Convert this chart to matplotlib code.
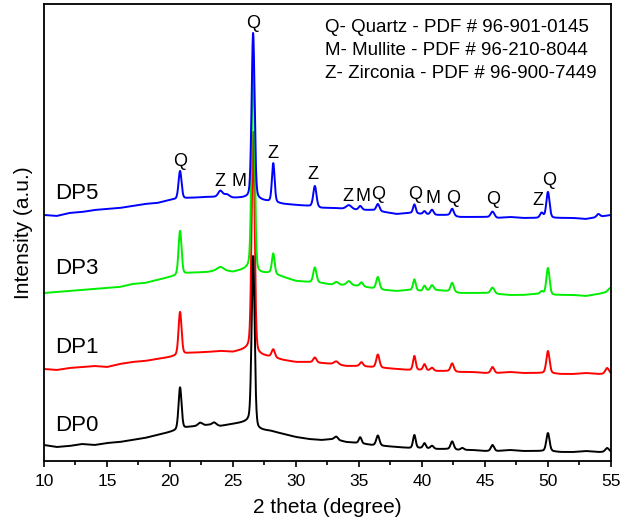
import numpy as np
import matplotlib
matplotlib.use("Agg")
import matplotlib.pyplot as plt
from matplotlib.ticker import MultipleLocator

plt.rcParams["font.family"] = ["Liberation Sans", "DejaVu Sans"]

# --- background points (2theta, intensity) ---
bg_x = [10, 11, 12, 13, 14, 15, 16, 17, 18, 19, 20, 21.5, 23, 24, 25, 26.2, 27, 28, 29, 30, 31, 32, 33, 34, 35,
        36, 37, 38, 39, 40, 41, 42, 43, 44, 45, 46, 47, 48, 49, 50, 51, 52, 53, 54, 55]
dp0_bg = [16, 14, 15, 17, 16, 18, 19, 21, 23, 26, 29, 34, 36, 35, 37, 39, 31, 30, 27, 24, 22, 21, 22, 19, 18,
          16, 15, 14, 13, 13, 12, 12, 11, 11, 10, 10, 11, 10, 10, 10, 9, 9, 10, 9, 9]
dp1_bg = [92, 91, 93, 94, 95, 94, 97, 99, 100, 102, 104, 108, 109, 110, 109, 112, 106, 104, 101, 99, 99, 98, 97, 95, 95,
          94, 93, 92, 91, 91, 90, 90, 89, 89, 88, 88, 89, 88, 88, 88, 87, 87, 88, 87, 87]
dp3_bg = [168, 169, 170, 171, 172, 173, 174, 177, 178, 181, 184, 188, 189, 191, 189, 192, 187, 188, 184, 180, 179, 178, 176, 176, 175,
          173, 171, 170, 171, 170, 171, 170, 168, 168, 168, 167, 166, 166, 167, 166, 166, 166, 165, 167, 170]
dp5_bg = [246, 245, 248, 249, 251, 252, 253, 255, 257, 258, 261, 263, 264, 264, 263, 263, 261, 259, 257, 256, 255, 253, 253, 252, 251,
          251, 249, 247, 248, 247, 246, 246, 244, 244, 244, 243, 244, 243, 243, 243, 243, 243, 242, 244, 246]

# --- peaks: position, height above background, fwhm ---
dp0_pos = [20.8, 22.4, 23.5, 26.6, 33.2, 35.1, 36.5, 39.4, 40.2, 40.8, 42.4, 43.2, 45.6, 50.0, 54.7]
dp0_hgt = [42, 3, 3, 170, 3, 6, 10, 13, 5, 3, 8, 2, 6, 18, 4]
dp0_fw = [0.28, 0.4, 0.4, 0.28, 0.3, 0.25, 0.3, 0.25, 0.25, 0.3, 0.3, 0.3, 0.3, 0.3, 0.35]

dp1_pos = [20.8, 26.6, 28.2, 31.5, 33.2, 35.2, 36.5, 39.4, 40.2, 40.8, 42.4, 45.6, 50.0, 54.7]
dp1_hgt = [43, 220, 8, 5, 3, 4, 13, 14, 6, 3, 8, 6, 22, 6]
dp1_fw = [0.28, 0.28, 0.3, 0.3, 0.4, 0.3, 0.3, 0.25, 0.25, 0.3, 0.3, 0.3, 0.3, 0.35]

dp3_pos = [20.8, 24.0, 26.6, 28.2, 31.5, 33.2, 34.2, 35.2, 36.5, 39.4, 40.2, 40.8, 42.4, 45.6, 49.5, 50.0, 54.9]
dp3_hgt = [44, 3, 218, 20, 15, 3, 4, 4, 12, 11, 5, 5, 9, 6, 3, 27, 3]
dp3_fw = [0.28, 0.6, 0.28, 0.25, 0.3, 0.4, 0.4, 0.3, 0.3, 0.25, 0.25, 0.3, 0.3, 0.35, 0.3, 0.3, 0.3]

dp5_pos = [20.8, 24.0, 24.5, 26.6, 28.2, 31.5, 34.2, 35.1, 36.5, 39.4, 40.2, 40.8, 42.4, 45.6, 49.5, 50.0, 54.0]
dp5_hgt = [28, 6, 3, 166, 39, 21, 4, 4, 7, 9, 3, 5, 7, 6, 5, 26, 3]
dp5_fw = [0.28, 0.4, 0.5, 0.28, 0.25, 0.3, 0.5, 0.3, 0.3, 0.25, 0.25, 0.3, 0.3, 0.35, 0.3, 0.3, 0.3]

# --- phase labels ---
lab_txt = ["Q", "Z", "M", "Q", "Z", "Z", "Z", "M", "Q", "Q", "M", "Q", "Q", "Z", "Q"]
lab_x = [20.79, 23.97, 25.48, 26.59, 28.17, 31.35, 34.13, 35.32, 36.51, 39.44, 40.87, 42.46, 45.63, 49.2, 50.08]
lab_y = [299, 279, 279, 437, 307, 286, 264, 264, 266, 266, 262, 262, 261, 260, 280]

samples = ["DP1", "DP3", "DP0", "DP5"]
sample_y = {"DP0": 36, "DP1": 114, "DP3": 193, "DP5": 267}
colors = {"DP0": "black", "DP1": "#ff0000", "DP3": "#00ee00", "DP5": "#0000ff"}


def pattern(bg, pos, hgt, fw, x):
    y = np.interp(x, bg_x, bg)
    for p, h, w in zip(pos, hgt, fw):
        s = w / 2.3548
        g = np.exp(-0.5 * ((x - p) / s) ** 2)
        l = 1 / (1 + ((x - p) / (w / 2)) ** 2)
        y = y + h * (0.75 * g + 0.25 * l)
    return y


x = np.linspace(10, 55, 4000)
curves = {
    "DP0": pattern(dp0_bg, dp0_pos, dp0_hgt, dp0_fw, x),
    "DP1": pattern(dp1_bg, dp1_pos, dp1_hgt, dp1_fw, x),
    "DP3": pattern(dp3_bg, dp3_pos, dp3_hgt, dp3_fw, x),
    "DP5": pattern(dp5_bg, dp5_pos, dp5_hgt, dp5_fw, x),
}

fig = plt.figure(figsize=(6.22, 5.31), dpi=100)
ax = fig.add_axes([0.0707, 0.1318, 0.9115, 0.8607])

for s in samples:
    ax.plot(x, curves[s], color=colors[s], lw=1.4)
    ax.text(10.9, sample_y[s], s, fontsize=16, va="center", ha="left")

for t, lx, ly in zip(lab_txt, lab_x, lab_y):
    ax.text(lx, ly, t, fontsize=13, ha="center", va="center")

legend_lines = ["Q- Quartz - PDF # 96-901-0145",
                "M- Mullite - PDF # 96-210-8044",
                "Z- Zirconia - PDF # 96-900-7449"]
legend_base = [0.939, 0.888, 0.838]
for line, yb in zip(legend_lines, legend_base):
    ax.text(0.496, yb, line, transform=ax.transAxes,
            fontsize=13.5, ha="left", va="baseline")

ax.set_xlim(10, 55)
ax.set_ylim(0, 457)
ax.xaxis.set_major_locator(MultipleLocator(5))
ax.xaxis.set_minor_locator(MultipleLocator(2.5))
ax.set_yticks([])
ax.tick_params(axis="x", which="major", direction="out", length=4, width=1.2, labelsize=12.5, pad=5)
ax.tick_params(axis="x", which="minor", direction="out", length=3, width=1.2)
for sp in ax.spines.values():
    sp.set_linewidth(1.3)

ax.set_xlabel("2 theta (degree)", fontsize=15, labelpad=7)
ax.set_ylabel("Intensity (a.u.)", fontsize=15, labelpad=8)

fig.savefig("out.png", dpi=100)
